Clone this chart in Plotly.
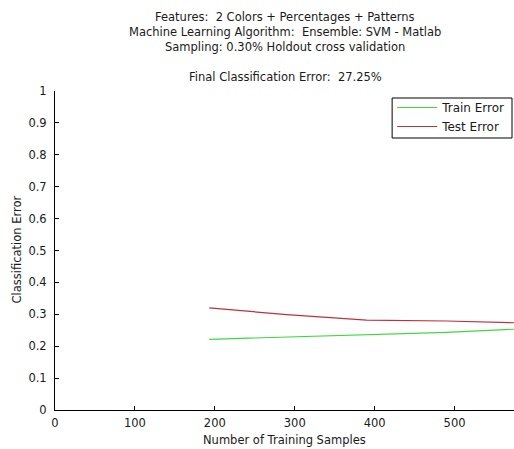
import plotly.graph_objects as go

# Data
samples = [193, 290, 390, 490, 590]
train_error = [0.2215, 0.228, 0.235, 0.2435, 0.255]
test_error = [0.320, 0.299, 0.282, 0.279, 0.2725]

title_lines = [
    "Features:  2 Colors + Percentages + Patterns",
    "Machine Learning Algorithm:  Ensemble: SVM - Matlab",
    "Sampling: 0.30% Holdout cross validation",
]
subtitle = "Final Classification Error:  27.25%"
x_ticks = [0, 100, 200, 300, 400, 500]
y_ticks = [0, 0.1, 0.2, 0.3, 0.4, 0.5, 0.6, 0.7, 0.8, 0.9, 1]
y_tick_text = ["0", "0.1", "0.2", "0.3", "0.4", "0.5", "0.6", "0.7", "0.8", "0.9", "1"]

FONT = "DejaVu Sans, Liberation Sans, Arial, sans-serif"
FS = 11.5
TXT = "#1a1a1a"

W, H = 514, 449
L, R, T, B = 54.5, 0, 91, 39
pw = W - L - R
ph = H - T - B


def px_x(px):
    return (px - L) / pw


def px_y(py):
    return (H - B - py) / ph


fig = go.Figure()
fig.add_trace(go.Scatter(x=samples, y=train_error, mode="lines", name="Train Error",
                         line=dict(color="#3fd83f", width=1.2)))
fig.add_trace(go.Scatter(x=samples, y=test_error, mode="lines", name="Test Error",
                         line=dict(color="#c0303a", width=1.2)))

annotations = []
for txt, py in zip(title_lines + [subtitle], [17, 32, 47, 77]):
    annotations.append(dict(text=txt, x=px_x(285), y=px_y(py), xref="paper", yref="paper",
                            xanchor="center", yanchor="middle", showarrow=False,
                            font=dict(family=FONT, size=FS, color=TXT)))
annotations.append(dict(text="Number of Training Samples", x=px_x(284), y=px_y(440),
                        xref="paper", yref="paper", xanchor="center", yanchor="middle",
                        showarrow=False, font=dict(family=FONT, size=FS, color=TXT)))
annotations.append(dict(text="Classification Error", x=px_x(16), y=px_y(250),
                        xref="paper", yref="paper", xanchor="center", yanchor="middle",
                        textangle=-90, showarrow=False,
                        font=dict(family=FONT, size=FS, color=TXT)))

# legend frame (Matlab-style box)
shapes = [dict(type="rect", xref="paper", yref="paper",
               x0=px_x(392), x1=px_x(512), y0=px_y(138), y1=px_y(98),
               line=dict(color="black", width=1), fillcolor="white", layer="above")]

fig.update_layout(
    width=W, height=H,
    margin=dict(l=L, r=R, t=T, b=B, pad=0),
    paper_bgcolor="white", plot_bgcolor="white",
    font=dict(family=FONT, size=FS, color=TXT),
    annotations=annotations,
    shapes=shapes,
    showlegend=True,
    legend=dict(x=px_x(392), y=px_y(93), xanchor="left", yanchor="top",
                bgcolor="rgba(0,0,0,0)", borderwidth=0,
                font=dict(family=FONT, size=12, color=TXT),
                tracegroupgap=0, itemwidth=40),
    xaxis=dict(range=[0, 574.4], tickvals=x_ticks, ticks="inside", ticklen=4,
               tickcolor="black", showline=True, linecolor="black", linewidth=1,
               showgrid=False, zeroline=False, tickfont=dict(size=FS),
               ticklabelstandoff=2),
    yaxis=dict(range=[0, 1], tickvals=y_ticks, ticktext=y_tick_text, ticks="inside",
               ticklen=4, tickcolor="black", showline=True, linecolor="black",
               linewidth=1, showgrid=False, zeroline=False, tickfont=dict(size=FS),
               ticklabelstandoff=5),
)

fig.write_html("out.html")
